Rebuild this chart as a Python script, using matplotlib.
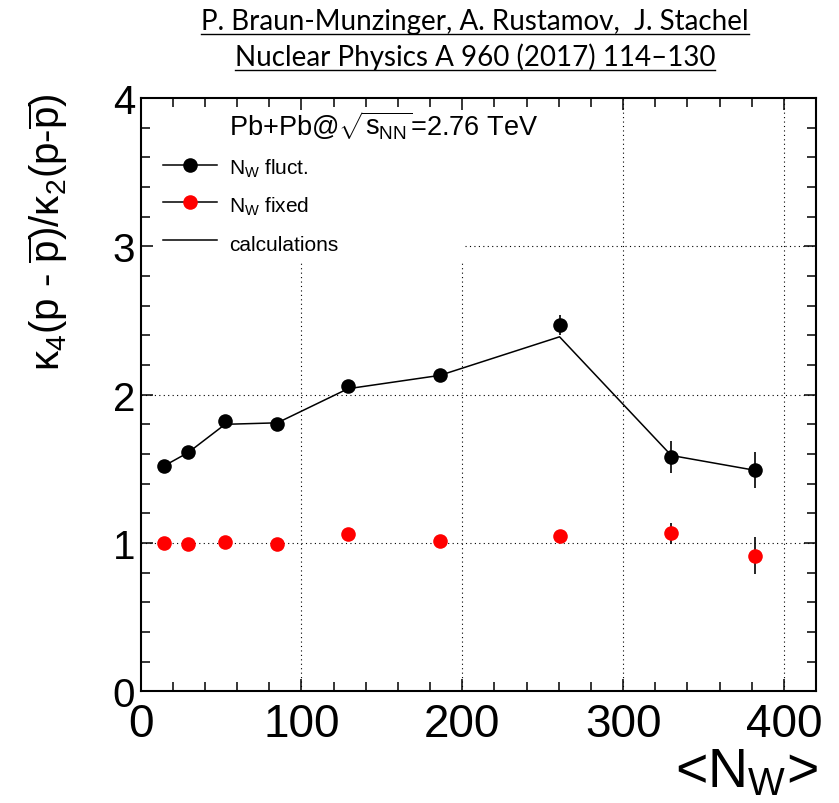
import matplotlib
matplotlib.use("Agg")
import matplotlib.pyplot as plt
from matplotlib.lines import Line2D
from matplotlib.ticker import MultipleLocator

plt.rcParams["font.family"] = ["Liberation Sans", "DejaVu Sans"]
plt.rcParams["mathtext.fontset"] = "custom"
plt.rcParams["mathtext.rm"] = "Liberation Sans"
plt.rcParams["mathtext.it"] = "Liberation Sans:italic"
plt.rcParams["mathtext.bf"] = "Liberation Sans:bold"
plt.rcParams["mathtext.default"] = "regular"

# mean number of wounded nucleons
n_w = [14.6, 29.6, 52.5, 85.0, 128.9, 186.1, 260.5, 330.0, 382.0]
# kappa4/kappa2 of net protons, wounded-nucleon number fluctuating
k_fluct = [1.52, 1.61, 1.82, 1.80, 2.055, 2.135, 2.47, 1.58, 1.49]
k_fluct_err = [0.03, 0.03, 0.03, 0.03, 0.03, 0.03, 0.067, 0.11, 0.12]
# same ratio with the wounded-nucleon number held fixed
k_fixed = [1.00, 0.99, 1.005, 0.99, 1.06, 1.015, 1.045, 1.065, 0.915]
k_fixed_err = [0.03, 0.03, 0.03, 0.03, 0.03, 0.03, 0.03, 0.07, 0.125]
# model calculation
k_calc = [1.52, 1.61, 1.80, 1.81, 2.04, 2.13, 2.39, 1.59, 1.49]

x_ticks = [0, 100, 200, 300, 400]
y_ticks = [0, 1, 2, 3, 4]

W, H = 839, 804
fig = plt.figure(figsize=(W / 100, H / 100), dpi=100)
ax = fig.add_axes([140.7 / W, 1 - 692.3 / H, (816 - 140.7) / W, (692.3 - 99) / H])
ax.set_xlim(0, 420)
ax.set_ylim(0, 4)

# dotted grid, kept clear of the legend area in the upper left
dot = dict(color="black", lw=0.8, ls=(0, (1, 3)), zorder=1)
box_x, box_y = 202.0, 2.89
for xv in (100, 200):
    ax.axvline(xv, ymin=0, ymax=box_y / 4, **dot)
for xv in (300, 400):
    ax.axvline(xv, **dot)
for yv in (1, 2):
    ax.axhline(yv, **dot)
ax.axhline(3, xmin=box_x / 420, xmax=1, **dot)

ax.plot(n_w, k_calc, color="black", lw=1.1, zorder=2)
ax.errorbar(n_w, k_fluct, yerr=k_fluct_err, fmt="o", color="black", ms=10.5,
            mew=0, ecolor="black", elinewidth=1.2, capsize=2.5, capthick=1.2, zorder=3)
ax.errorbar(n_w, k_fixed, yerr=k_fixed_err, fmt="o", color="#ff0000", ms=10.5,
            mew=0, ecolor="black", elinewidth=1.2, capsize=2.5, capthick=1.2, zorder=3)

ax.set_xticks(x_ticks)
ax.set_yticks(y_ticks)
ax.xaxis.set_minor_locator(MultipleLocator(20))
ax.yaxis.set_minor_locator(MultipleLocator(0.2))
ax.tick_params(which="both", direction="in", top=True, right=True, width=1.1)
ax.tick_params(which="major", length=8.6)
ax.tick_params(which="minor", length=6.5)
ax.tick_params(axis="y", labelsize=29, pad=4)
ax.tick_params(axis="x", labelsize=33, pad=8)
for sp in ax.spines.values():
    sp.set_linewidth(1.5)

ax.set_ylabel(r"$κ_4(p\ \text{-}\ \overline{p})/κ_2(p\text{-}\overline{p})$", fontsize=29)
ax.yaxis.set_label_coords(-0.1047, 0.776)
ax.set_xlabel(r"<N$_W$>", fontsize=40, ha="right", va="top")
ax.xaxis.set_label_coords(1.003, -0.092)

ax.text(0.1308, 0.939, r"Pb+Pb@$\sqrt{s_{NN}}$=2.76 TeV", transform=ax.transAxes,
        fontsize=19.5, va="baseline", ha="left")

handles = [
    Line2D([], [], color="black", lw=1.1, marker="o", ms=10.5, mew=0),
    Line2D([], [], color="black", lw=1.1, marker="o", ms=10.5, mew=0, mfc="#ff0000"),
    Line2D([], [], color="black", lw=1.1),
]
labels = [r"$N_W$ fluct.", r"$N_W$ fixed", "calculations"]
ax.legend(handles, labels, loc="center left", bbox_to_anchor=(0.033, 0.8198),
          frameon=False, fontsize=15, borderpad=0, borderaxespad=0,
          handlelength=2.6, handletextpad=0.58, handleheight=1.4, labelspacing=0.65)

# citation header with underlines
hdr = ["P. Braun-Munzinger, A. Rustamov,  J. Stachel",
       "Nuclear Physics A 960 (2017) 114\u2013130"]
hdr_y = [30, 66]
texts = []
for s, yb in zip(hdr, hdr_y):
    t = fig.text(475 / W, 1 - yb / H, s, family=["Lato", "DejaVu Sans"], fontsize=20,
                 ha="center", va="baseline")
    texts.append(t)
fig.canvas.draw()
r = fig.canvas.get_renderer()
for t, yb in zip(texts, hdr_y):
    bb = t.get_window_extent(r)
    yl = 1 - (yb + 5) / H
    fig.add_artist(Line2D([bb.x0 / W, bb.x1 / W], [yl, yl], color="black", lw=1.0,
                          transform=fig.transFigure))

fig.savefig("out.png", dpi=100)
